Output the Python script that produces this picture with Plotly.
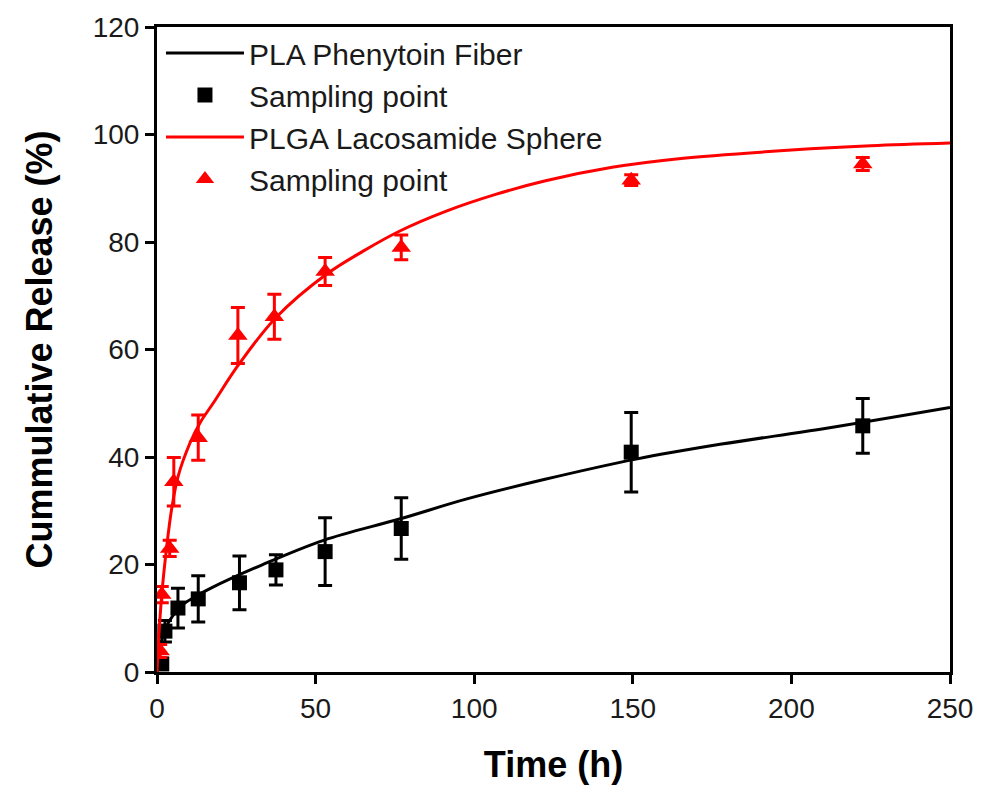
import plotly.graph_objects as go

# Sampling data: PLA phenytoin fibers
pla_time = [1.5, 2.5, 6.6, 13, 26, 37.5, 53, 77, 149.5, 222.5]
pla_release = [1.5, 7.6, 11.9, 13.6, 16.6, 19.0, 22.4, 26.7, 40.9, 45.8]
pla_sd = [0.8, 2.0, 3.7, 4.3, 5.0, 2.8, 6.3, 5.7, 7.4, 5.1]

# Sampling data: PLGA lacosamide spheres
plga_time = [1, 1.5, 4, 5.3, 13, 25.5, 37, 53, 77, 149.5, 222.5]
plga_release = [3.9, 14.4, 23.0, 35.4, 43.6, 62.6, 66.1, 74.5, 79.0, 91.5, 94.5]
plga_sd = [1.2, 1.5, 1.5, 4.5, 4.2, 5.2, 4.2, 2.6, 2.3, 1.0, 1.2]

# Fitted release curves
pla_fit_time = [0, 0.5, 1.5, 3, 5, 8, 12, 17, 33, 52.5, 76.7, 97.7, 122, 151, 178, 210.6, 250]
pla_fit_release = [0, 3.0, 6.0, 8.5, 10.5, 12.5, 14.0, 15.6, 19.9, 24.5, 28.5, 32.2, 35.8, 39.6, 42.4, 45.3, 49.2]

plga_fit_time = [0, 0.5, 1.5, 3, 4.6, 6.7, 10.4, 13.5, 17.7, 26, 37.6, 53.4, 65, 76.4, 91, 107, 122.5, 143.5, 164.5, 200, 225, 250]
plga_fit_release = [0, 6.0, 14.4, 23.0, 30.3, 36.5, 42.6, 46.3, 50.0, 57.4, 66.0, 74.0, 78.3, 82.0, 85.7, 88.9, 91.4, 93.9, 95.5, 97.1, 97.9, 98.4]

x_ticks = [0, 50, 100, 150, 200, 250]
y_ticks = [0, 20, 40, 60, 80, 100, 120]

FONT = "Liberation Sans, Arial, sans-serif"
RED = "#ff0000"
BLACK = "#000000"

fig = go.Figure()

fig.add_trace(go.Scatter(
    x=pla_fit_time, y=pla_fit_release, mode="lines",
    line=dict(color=BLACK, width=3, shape="spline"),
    name="PLA Phenytoin Fiber", legendgroup="a",
))
fig.add_trace(go.Scatter(
    x=pla_time, y=pla_release, mode="markers",
    marker=dict(symbol="square", size=15, color=BLACK),
    error_y=dict(type="data", array=pla_sd, color=BLACK, thickness=3, width=7),
    name="Sampling point", legendgroup="b",
))
fig.add_trace(go.Scatter(
    x=plga_fit_time, y=plga_fit_release, mode="lines",
    line=dict(color=RED, width=3, shape="spline"),
    name="PLGA Lacosamide Sphere", legendgroup="c",
))
fig.add_trace(go.Scatter(
    x=plga_time, y=plga_release, mode="markers",
    marker=dict(symbol="triangle-up", size=17, color=RED),
    error_y=dict(type="data", array=plga_sd, color=RED, thickness=3, width=7),
    name="Sampling point", legendgroup="d",
))

axis_common = dict(
    showline=True, linecolor=BLACK, linewidth=3, mirror=True,
    ticks="outside", ticklen=9, tickwidth=3, tickcolor=BLACK,
    showgrid=False, zeroline=False,
    tickfont=dict(family=FONT, size=28, color="#1a1a1a"),
)

fig.update_layout(
    width=985, height=791,
    margin=dict(l=157, r=33, t=22, b=119),
    paper_bgcolor="white", plot_bgcolor="white",
    font=dict(family=FONT, color=BLACK),
    xaxis=dict(
        range=[0, 250], tickvals=x_ticks,
        title=dict(text="<b>Time (h)</b>", font=dict(family=FONT, size=36, color=BLACK), standoff=30),
        **axis_common,
    ),
    yaxis=dict(
        range=[0, 120], tickvals=y_ticks,
        title=dict(text="<b>Cummulative Release (%)</b>", font=dict(family=FONT, size=36, color=BLACK), standoff=30),
        **axis_common,
    ),
    legend=dict(
        x=0.005, y=1.0, xanchor="left", yanchor="top",
        bgcolor="rgba(0,0,0,0)", borderwidth=0,
        font=dict(family=FONT, size=30, color="#1a1a1a"),
        itemwidth=78, tracegroupgap=0,
    ),
)

fig.write_html("out.html")
